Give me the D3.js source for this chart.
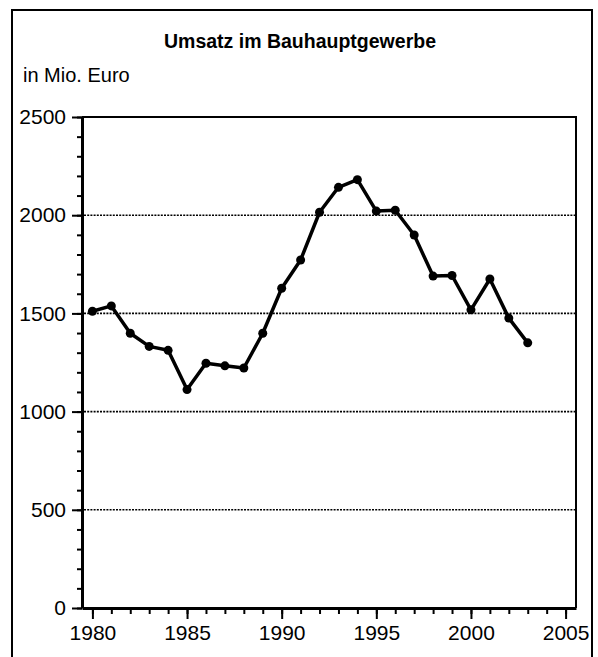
<!DOCTYPE html>
<html>
<head>
<meta charset="utf-8">
<script src="https://cdn.jsdelivr.net/npm/d3@7"></script>
<style>
  body { margin: 0; background: #fff; }
  svg text { font-family: "Liberation Sans", Arial, sans-serif; fill: #000; }
</style>
</head>
<body>
<div id="chart"></div>
<script>
// Umsatz im Bauhauptgewerbe, in Mio. Euro
var years = [1980,1981,1982,1983,1984,1985,1986,1987,1988,1989,1990,1991,
             1992,1993,1994,1995,1996,1997,1998,1999,2000,2001,2002,2003];
var umsatz = [1511,1538,1399,1332,1312,1112,1246,1233,1222,1399,1628,1772,
              2015,2142,2181,2021,2025,1899,1690,1693,1518,1675,1476,1350];
var yTicks = [0,500,1000,1500,2000,2500];
var xTicks = [1980,1985,1990,1995,2000,2005];
var titleText = "Umsatz im Bauhauptgewerbe";
var unitText = "in Mio. Euro";

function drawChart(){
    var W = 598, H = 657,
        left = 82, right = 576, top = 117, bottom = 608;

    var svg = d3.select("#chart").append("svg")
        .attr("width", W).attr("height", H);

    // outer frame (no bottom edge visible)
    svg.append("path")
        .attr("d", "M12,700 L12,10 L592,10 L592,700")
        .attr("fill", "none").attr("stroke", "#000").attr("stroke-width", 2);

    svg.append("text").attr("x", 300).attr("y", 48)
        .attr("text-anchor", "middle")
        .style("font-size", "19.5px").style("font-weight", "bold")
        .text(titleText);
    svg.append("text").attr("x", 23).attr("y", 82)
        .style("font-size", "20px")
        .text(unitText);

    var x = d3.scaleLinear().domain([1979.45, 2005.55]).range([left, right]);
    var y = d3.scaleLinear().domain([0, 2500]).range([bottom, top]);

    // dotted grid
    svg.append("g").selectAll("line")
        .data(yTicks.filter(function(d){ return d > 0 && d < 2500; }))
        .enter().append("line")
        .attr("x1", left + 2).attr("x2", right)
        .attr("y1", function(d){ return y(d); })
        .attr("y2", function(d){ return y(d); })
        .attr("stroke", "#000").attr("stroke-width", 1.6)
        .attr("stroke-dasharray", "2,1.2");

    // box top + right
    svg.append("path")
        .attr("d", "M" + left + "," + top + " L" + right + "," + top + " L" + right + "," + bottom)
        .attr("fill", "none").attr("stroke", "#000").attr("stroke-width", 2);

    // minor ticks
    var yMinor = d3.range(0, 2501, 100);
    svg.append("g").attr("transform", "translate(" + left + ",0)")
        .call(d3.axisLeft(y).tickValues(yMinor).tickSize(5).tickSizeOuter(0).tickFormat(""))
        .call(function(g){ g.select(".domain").remove(); g.selectAll("line").attr("stroke-width", 2); });
    var xMinor = d3.range(1980, 2006, 1);
    svg.append("g").attr("transform", "translate(0," + bottom + ")")
        .call(d3.axisBottom(x).tickValues(xMinor).tickSize(6).tickSizeOuter(0).tickFormat(""))
        .call(function(g){ g.select(".domain").remove(); g.selectAll("line").attr("stroke-width", 2); });

    // major axes
    var yAxis = svg.append("g").attr("transform", "translate(" + left + ",0)")
        .call(d3.axisLeft(y).tickValues(yTicks).tickSize(10).tickSizeOuter(0).tickPadding(6)
              .tickFormat(d3.format("d")));
    var xAxis = svg.append("g").attr("transform", "translate(0," + bottom + ")")
        .call(d3.axisBottom(x).tickValues(xTicks).tickSize(11).tickSizeOuter(0).tickPadding(6)
              .tickFormat(d3.format("d")));
    [yAxis, xAxis].forEach(function(g){
        g.select(".domain").attr("stroke-width", 3);
        g.selectAll("line").attr("stroke-width", 2);
        g.selectAll("text").style("font-size", "21px").attr("fill", "#000");
    });

    // series
    var line = d3.line()
        .x(function(d, i){ return x(years[i]); })
        .y(function(d){ return y(d); });
    svg.append("path").datum(umsatz)
        .attr("d", line)
        .attr("fill", "none").attr("stroke", "#000")
        .attr("stroke-width", 3.5).attr("stroke-linejoin", "round");
    svg.append("g").selectAll("circle")
        .data(umsatz).enter().append("circle")
        .attr("cx", function(d, i){ return x(years[i]); })
        .attr("cy", function(d){ return y(d); })
        .attr("r", 4.5).attr("fill", "#000");
}

drawChart();
</script>
</body>
</html>
